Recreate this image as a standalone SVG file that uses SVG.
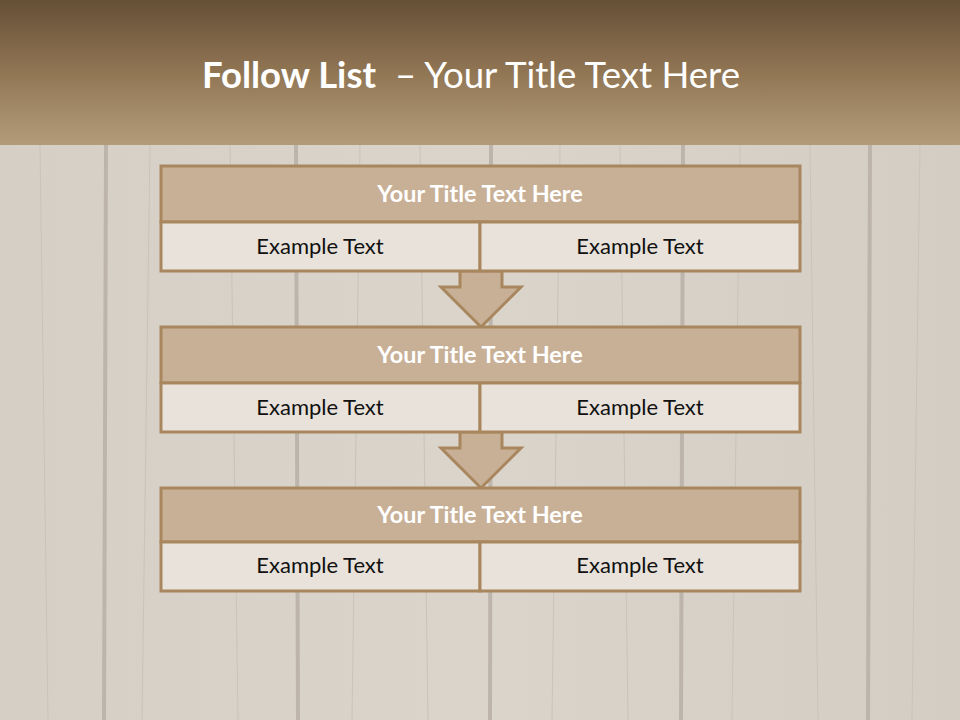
<svg xmlns="http://www.w3.org/2000/svg" width="960" height="720" viewBox="0 0 960 720">
<defs>
<linearGradient id="hdr" x1="0" y1="0" x2="0" y2="1">
<stop offset="0" stop-color="#654f36"/>
<stop offset="0.5" stop-color="#917654"/>
<stop offset="1" stop-color="#b39b79"/>
</linearGradient>
<linearGradient id="wood" x1="0" y1="0" x2="1" y2="0">
<stop offset="0" stop-color="#d6cfc6"/>
<stop offset="0.5" stop-color="#dbd4cb"/>
<stop offset="1" stop-color="#d4cdc4"/>
</linearGradient>
<style>
.t{fill:#c8b097;stroke:#a8875f;stroke-width:3}
.b{fill:#e8e2da;stroke:#a8875f;stroke-width:3}
.ar{fill:#c8b097;stroke:#a8875f;stroke-width:3;stroke-linejoin:miter}
.tt{font-family:Lato,"Open Sans",sans-serif;font-weight:bold;font-size:23.4px;fill:#ffffff;text-anchor:middle}
.et{font-family:Lato,"Open Sans",sans-serif;font-size:22px;fill:#111111;text-anchor:middle}
.hd{font-family:Lato,"Open Sans",sans-serif;font-size:36px;fill:#ffffff}
.pl{stroke:#bdb5ab;stroke-width:4}
.gr{stroke:#cbc3b9;stroke-width:1}
</style>
</defs>
<rect x="0" y="0" width="960" height="720" fill="url(#wood)"/>
<g id="planks">
<line class="pl" x1="106" y1="145" x2="104" y2="720"/>
<line class="pl" x1="296" y1="145" x2="298" y2="720"/>
<line class="pl" x1="491" y1="145" x2="490" y2="720"/>
<line class="pl" x1="683" y1="145" x2="681" y2="720"/>
<line class="pl" x1="870" y1="145" x2="868" y2="720"/>
<line class="gr" x1="40" y1="145" x2="48" y2="720"/>
<line class="gr" x1="150" y1="145" x2="142" y2="720"/>
<line class="gr" x1="230" y1="145" x2="238" y2="720"/>
<line class="gr" x1="360" y1="145" x2="352" y2="720"/>
<line class="gr" x1="420" y1="145" x2="428" y2="720"/>
<line class="gr" x1="560" y1="145" x2="552" y2="720"/>
<line class="gr" x1="620" y1="145" x2="628" y2="720"/>
<line class="gr" x1="740" y1="145" x2="732" y2="720"/>
<line class="gr" x1="810" y1="145" x2="818" y2="720"/>
<line class="gr" x1="920" y1="145" x2="912" y2="720"/>
</g>
<rect x="0" y="0" width="960" height="145" fill="url(#hdr)"/>
<g id="title">
<text class="hd" x="202" y="88" font-weight="bold" textLength="174" lengthAdjust="spacingAndGlyphs">Follow List</text>
<text class="hd" x="395" y="88" textLength="345" lengthAdjust="spacingAndGlyphs">– Your Title Text Here</text>
</g>
<g id="connectors">
<path class="ar" d="M460,271 L502,271 L502,287 L521,287 L481,327 L441,287 L460,287 Z"/>
<path class="ar" d="M460,432 L502,432 L502,448 L521,448 L481,488 L441,448 L460,448 Z"/>
</g>
<g id="node1">
<rect class="t" x="161" y="166" width="639" height="56"/>
<rect class="b" x="161" y="222" width="319" height="49"/>
<rect class="b" x="480" y="222" width="320" height="49"/>
<text class="tt" x="480" y="202">Your Title Text Here</text>
<text class="et" x="320" y="254">Example Text</text>
<text class="et" x="640" y="254">Example Text</text>
</g>
<g id="node2">
<rect class="t" x="161" y="327" width="639" height="56"/>
<rect class="b" x="161" y="383" width="319" height="49"/>
<rect class="b" x="480" y="383" width="320" height="49"/>
<text class="tt" x="480" y="363">Your Title Text Here</text>
<text class="et" x="320" y="415">Example Text</text>
<text class="et" x="640" y="415">Example Text</text>
</g>
<g id="node3">
<rect class="t" x="161" y="488" width="639" height="54"/>
<rect class="b" x="161" y="542" width="319" height="49"/>
<rect class="b" x="480" y="542" width="320" height="49"/>
<text class="tt" x="480" y="523">Your Title Text Here</text>
<text class="et" x="320" y="573">Example Text</text>
<text class="et" x="640" y="573">Example Text</text>
</g>
</svg>
